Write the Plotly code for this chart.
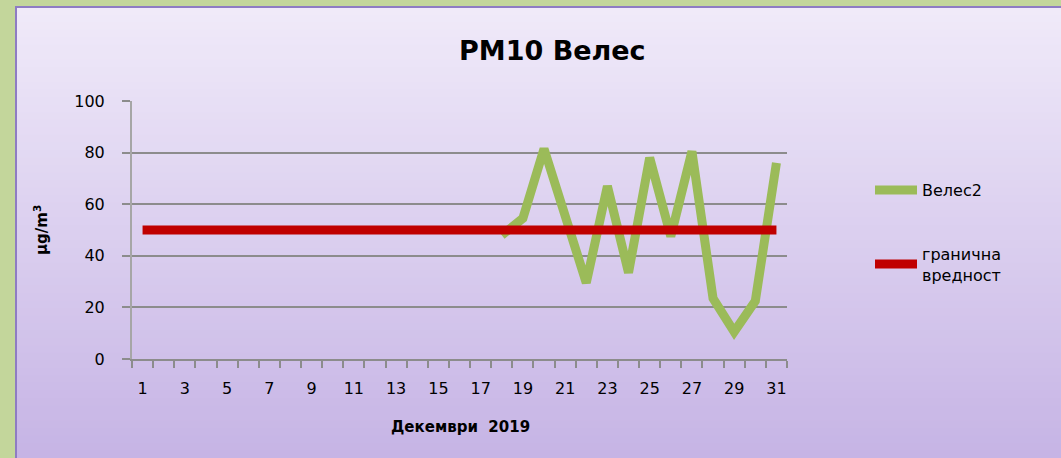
import plotly.graph_objects as go

days = list(range(1, 32))
veles_days = list(range(18, 32))
veles2 = [48, 54.5, 81.5, 56, 29.5, 67, 33.5, 78, 47.5, 80.5, 23.5, 10.5, 22.5, 76]
limit_value = [50] * len(days)
y_ticks = [0, 20, 40, 60, 80, 100]
x_ticks = list(range(1, 32, 2))

W, H = 1061, 458
L, R, T, B = 132, 787, 101, 359
pw, ph = R - L, B - T

def px_x(p):
    return (p - L) / pw

def px_y(p):
    return (B - p) / ph

FONT = "DejaVu Sans"

fig = go.Figure()
fig.add_trace(go.Scatter(
    x=veles_days, y=veles2, mode="lines", name="Велес2",
    line=dict(color="#9bbb59", width=9), legendgroup="a"))
fig.add_trace(go.Scatter(
    x=days, y=limit_value, mode="lines", name="гранична<br>вредност",
    line=dict(color="#c00000", width=9), legendgroup="b"))

shapes = []
n = 60
top_c = (240, 234, 249)
bot_c = (198, 180, 229)
y_top, y_bot = 7, H
for i in range(n):
    t = i / (n - 1)
    c = tuple(int(round(top_c[k] + (bot_c[k] - top_c[k]) * t)) for k in range(3))
    ya = y_top + (y_bot - y_top) * i / n
    yb = y_top + (y_bot - y_top) * (i + 1) / n + 1
    shapes.append(dict(type="rect", xref="paper", yref="paper",
                       x0=px_x(16), x1=px_x(W + 50), y0=px_y(ya), y1=px_y(min(yb, H + 50)),
                       fillcolor="rgb(%d,%d,%d)" % c, line=dict(width=0), layer="below"))
shapes.append(dict(type="rect", xref="paper", yref="paper",
                   x0=px_x(16), x1=px_x(W + 50), y0=px_y(H + 50), y1=px_y(7),
                   fillcolor="rgba(0,0,0,0)", line=dict(color="#8e7cc3", width=2), layer="below"))

fig.update_layout(
    width=W, height=H,
    margin=dict(l=L, r=W - R, t=T, b=H - B),
    paper_bgcolor="#c3d69b",
    plot_bgcolor="rgba(0,0,0,0)",
    font=dict(family=FONT, size=16, color="#000000"),
    shapes=shapes,
    showlegend=True,
    legend=dict(x=px_x(870), y=px_y(173), xanchor="left", yanchor="top",
                traceorder="grouped", tracegroupgap=40,
                font=dict(family=FONT, size=16), bgcolor="rgba(0,0,0,0)",
                itemwidth=42),
    annotations=[
        dict(text="<b>PM10 Велес</b>", xref="paper", yref="paper",
             x=px_x(552), y=px_y(50), xanchor="center", yanchor="middle",
             showarrow=False, font=dict(family=FONT, size=27)),
        dict(text="<b>μg/m<sup>3</sup></b>", xref="paper", yref="paper",
             x=px_x(41), y=px_y(230), xanchor="center", yanchor="middle",
             textangle=-90, showarrow=False, font=dict(family=FONT, size=15)),
        dict(text="<b>Декември  2019</b>", xref="paper", yref="paper",
             x=px_x(460), y=px_y(427), xanchor="center", yanchor="middle",
             showarrow=False, font=dict(family=FONT, size=15)),
    ],
)

fig.update_xaxes(
    range=[0.5, 31.5], tickmode="array", tickvals=x_ticks,
    ticktext=[str(v) for v in x_ticks], ticks="", showgrid=False,
    showline=True, linecolor="#8c8c8c", linewidth=2, zeroline=False,
    tickfont=dict(family=FONT, size=16), ticklabelstandoff=14,
    minor=dict(tickmode="array", tickvals=[d - 0.5 for d in days] + [31.5],
               ticks="outside", ticklen=7, tickcolor="#8c8c8c", tickwidth=2, showgrid=False),
)
fig.update_yaxes(
    range=[0, 100], tickmode="array", tickvals=y_ticks,
    ticks="outside", ticklen=8, tickcolor="#8c8c8c", tickwidth=2,
    showgrid=True, gridcolor="#8c8c8c", gridwidth=2,
    showline=True, linecolor="#a6a6a6", linewidth=2, zeroline=False,
    tickfont=dict(family=FONT, size=16), ticklabelstandoff=14,
)

fig.write_html("out.html", config={"displayModeBar": False},
               post_script="document.body.style.margin='0';document.body.style.overflow='hidden';")
